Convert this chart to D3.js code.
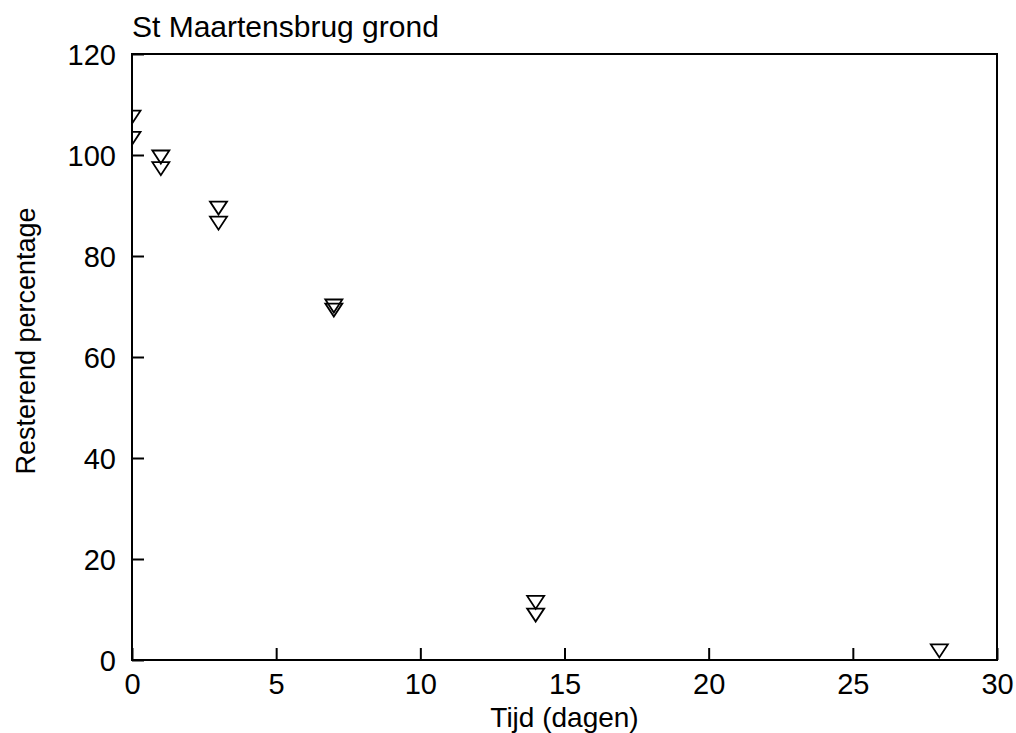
<!DOCTYPE html>
<html>
<head>
<meta charset="utf-8">
<script src="https://cdn.jsdelivr.net/npm/d3@7"></script>
<style>
  body { margin: 0; background: #fff; }
  text { font-family: "Liberation Sans", Arial, sans-serif; fill: #000; }
</style>
</head>
<body>
<div id="chart"></div>
<script>
/* St Maartensbrug grond - scatter */

const width = 1016,
    height = 733,
    margin = ({ top: 54, right: 19, bottom: 73, left: 132 });

// data
const days = [0, 0, 1, 1, 3, 3, 7, 7, 14, 14, 28];
const remaining = [107.5, 103.3, 99.6, 97.3, 89.5, 86.5, 70.1, 69.3, 11.4, 8.9, 1.8];
const xTicks = [0, 5, 10, 15, 20, 25, 30];
const yTicks = [0, 20, 40, 60, 80, 100, 120];

const points = days.map((d, i) => ({ day: d, value: remaining[i] }));

const svg = d3.select("#chart")
    .append("svg")
    .attr("width", width)
    .attr("height", height);

const x = d3.scaleLinear()
    .domain([0, 30])
    .range([margin.left, width - margin.right]);

const y = d3.scaleLinear()
    .domain([0, 120])
    .range([height - margin.bottom, margin.top]);

/* clip so the markers at day 0 are cut by the frame */
svg.append("clipPath")
    .attr("id", "plot-clip")
  .append("rect")
    .attr("x", x(0))
    .attr("y", y(120))
    .attr("width", x(30) - x(0))
    .attr("height", y(0) - y(120));

// ticks pointing inward
const xAxis = svg.append("g")
    .attr("transform", `translate(0,${y(0)})`)
    .call(d3.axisBottom(x).tickValues(xTicks).tickSize(-12).tickPadding(13).tickSizeOuter(0));

const yAxis = svg.append("g")
    .attr("transform", `translate(${x(0)},0)`)
    .call(d3.axisLeft(y).tickValues(yTicks).tickSize(-12).tickPadding(16).tickSizeOuter(0));

[xAxis, yAxis].forEach(g => {
    g.select(".domain").remove();
    g.selectAll(".tick line").attr("stroke", "#000").attr("stroke-width", 2);
    g.selectAll(".tick text").style("font-size", "29px");
});
xAxis.selectAll(".tick text").attr("dy", "0.71em");
yAxis.selectAll(".tick text").attr("dy", "0.36em");

/* frame */
svg.append("rect")
    .attr("x", x(0))
    .attr("y", y(120))
    .attr("width", x(30) - x(0))
    .attr("height", y(0) - y(120))
    .attr("fill", "none")
    .attr("stroke", "#000")
    .attr("stroke-width", 2);

// downward triangle marker
const tw = 17, th = 13;
const tri = `M${-tw / 2},${-th / 2}L${tw / 2},${-th / 2}L0,${th / 2}Z`;

svg.append("g")
    .attr("clip-path", "url(#plot-clip)")
  .selectAll("path")
  .data(points)
  .join("path")
    .attr("transform", d => `translate(${x(d.day)},${y(d.value)})`)
    .attr("d", tri)
    .attr("fill", "none")
    .attr("stroke", "#000")
    .attr("stroke-width", 1.8);

svg.append("text")
    .attr("x", x(0))
    .attr("y", 37)
    .style("font-size", "30px")
    .text("St Maartensbrug grond");

svg.append("text")
    .attr("text-anchor", "middle")
    .attr("x", (x(0) + x(30)) / 2)
    .attr("y", 727)
    .style("font-size", "28px")
    .text("Tijd (dagen)");

svg.append("text")
    .attr("text-anchor", "middle")
    .attr("transform", "translate(35,341) rotate(-90)")
    .style("font-size", "27px")
    .text("Resterend percentage");
</script>
</body>
</html>
